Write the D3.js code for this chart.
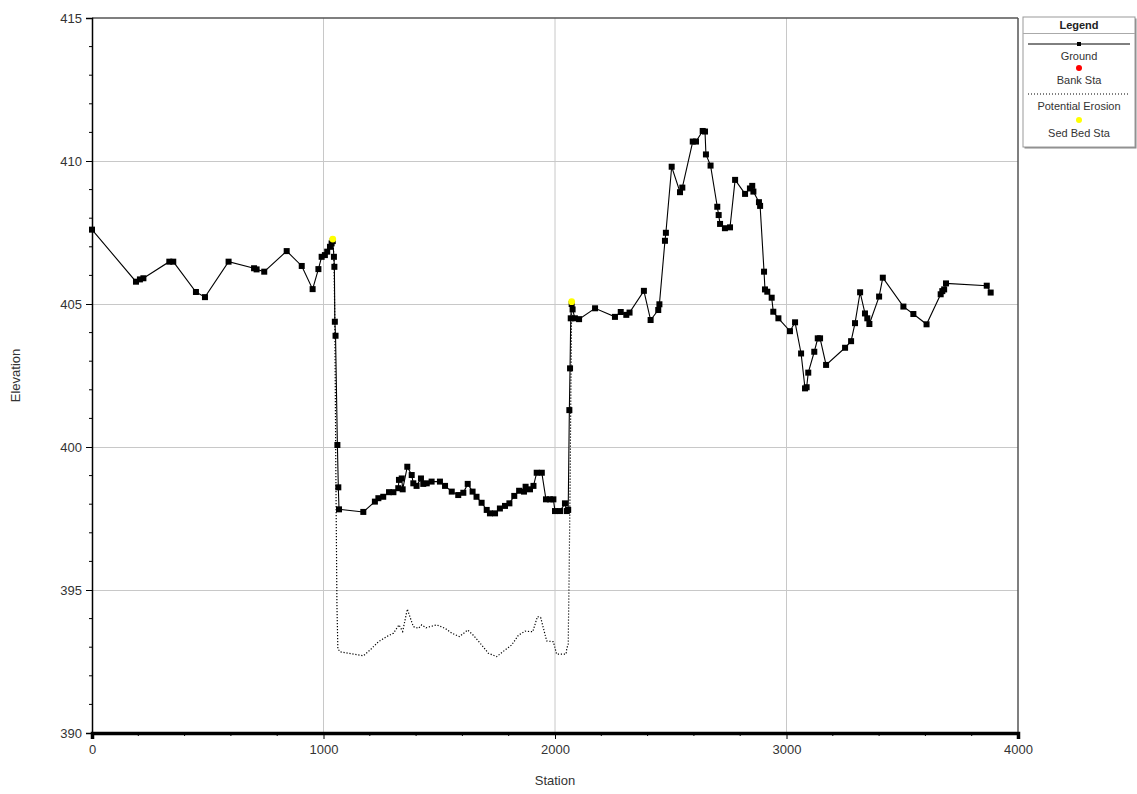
<!DOCTYPE html>
<html><head><meta charset="utf-8">
<script src="https://cdn.jsdelivr.net/npm/d3@7"></script>
<style>body{margin:0;background:#fff;} text{font-family:Arial,"Liberation Sans",sans-serif;}</style>
</head><body>
<svg id="c" width="1137" height="794"></svg>
<script>
const groundSta = [0,190,207,222,334,351,449,488,590,700,711,744,841,906,953,978,992,1006,1016,1028,1035,1040,1045,1047,1049,1052,1060,1064,1067,1172,1222,1237,1258,1283,1302,1323,1326,1338,1342,1362,1381,1388,1402,1421,1431,1446,1467,1503,1525,1554,1582,1604,1623,1644,1661,1683,1705,1719,1741,1762,1784,1803,1824,1845,1866,1873,1892,1907,1921,1943,1961,1978,1993,2000,2022,2043,2051,2057,2062,2065,2068,2072,2076,2086,2104,2173,2259,2284,2308,2322,2384,2413,2446,2451,2475,2479,2504,2540,2550,2595,2609,2638,2648,2652,2672,2701,2707,2713,2734,2756,2778,2821,2842,2852,2857,2881,2886,2903,2907,2917,2936,2943,2965,3015,3037,3063,3080,3087,3094,3120,3135,3145,3171,3253,3279,3296,3318,3339,3349,3358,3400,3416,3505,3548,3605,3666,3673,3681,3689,3865,3882];
const groundElev = [407.6,405.78,405.86,405.9,406.48,406.48,405.42,405.24,406.48,406.25,406.21,406.13,406.85,406.33,405.52,406.22,406.65,406.71,406.83,407.0,407.12,407.2,406.65,406.3,404.38,403.89,400.07,398.59,397.82,397.73,398.09,398.21,398.26,398.42,398.42,398.56,398.85,398.9,398.52,399.31,399.02,398.73,398.64,398.9,398.71,398.73,398.79,398.79,398.64,398.44,398.32,398.4,398.71,398.44,398.26,398.05,397.8,397.68,397.68,397.85,397.94,398.03,398.29,398.47,398.44,398.61,398.52,398.64,399.1,399.1,398.17,398.17,398.17,397.76,397.76,398.03,397.76,397.8,401.29,402.75,404.5,405.0,404.81,404.5,404.47,404.85,404.55,404.72,404.62,404.7,405.46,404.44,404.79,404.99,407.21,407.49,409.8,408.91,409.07,410.68,410.68,411.05,411.03,410.23,409.84,408.4,408.11,407.8,407.65,407.68,409.34,408.85,409.04,409.13,408.93,408.56,408.43,406.13,405.51,405.43,405.22,404.73,404.5,404.05,404.36,403.27,402.05,402.09,402.6,403.33,403.8,403.8,402.87,403.47,403.7,404.33,405.41,404.67,404.5,404.3,405.26,405.92,404.91,404.65,404.29,405.34,405.45,405.51,405.72,405.64,405.4];

const erosionSta = [1040,1045,1049,1053,1058,1062,1071,1172,1201,1237,1273,1302,1326,1342,1362,1388,1410,1424,1443,1489,1525,1554,1587,1623,1647,1683,1712,1748,1784,1813,1842,1871,1904,1924,1938,1964,1993,2007,2048,2051,2057,2062,2065,2068,2072];
const erosionElev = [407.27,406.65,404.4,399.5,394.5,392.95,392.84,392.7,392.9,393.19,393.37,393.49,393.78,393.55,394.33,393.72,393.66,393.78,393.68,393.78,393.66,393.49,393.37,393.6,393.42,393.08,392.79,392.67,392.9,393.08,393.42,393.56,393.54,394.07,394.04,393.22,393.19,392.76,392.76,392.96,393.1,396.3,398.5,401.5,405.08];

const sedBedSta = [1040,2072];
const sedBedElev = [407.27,405.08];

const xMajorTicks = [0,1000,2000,3000,4000];
const yMajorTicks = [390,395,400,405,410,415];

const L=92, R=1018, T=18, B=733;
const x = d3.scaleLinear().domain([0,4000]).range([L,R]);
const y = d3.scaleLinear().domain([390,415]).range([B,T]);
const svg = d3.select("#c");

// grid
svg.append("g").selectAll("line").data(xMajorTicks.slice(1,-1)).join("line")
  .attr("x1",d=>x(d)).attr("x2",d=>x(d)).attr("y1",T).attr("y2",B)
  .attr("stroke","#c8c8c8").attr("stroke-width",1);
svg.append("g").selectAll("line").data(yMajorTicks.slice(1,-1)).join("line")
  .attr("y1",d=>y(d)+0.5).attr("y2",d=>y(d)+0.5).attr("x1",L).attr("x2",R)
  .attr("stroke","#c8c8c8").attr("stroke-width",1);

// frame
svg.append("line").attr("x1",L).attr("x2",R).attr("y1",T).attr("y2",T).attr("stroke","#555").attr("stroke-width",1.5);
svg.append("line").attr("x1",R).attr("x2",R).attr("y1",T).attr("y2",B).attr("stroke","#555").attr("stroke-width",1.5);

// axes
const yAxis = d3.axisLeft(y).tickValues(yMajorTicks).tickSize(6).tickFormat(d3.format("d"));
const gy = svg.append("g").attr("transform",`translate(${L},0)`).call(yAxis);
const yMinor = d3.range(390,415.01,1).filter(v=>v%5!==0);
gy.selectAll(".minor").data(yMinor).join("line").attr("class","minor")
  .attr("x1",-3).attr("x2",0).attr("y1",d=>y(d)).attr("y2",d=>y(d)).attr("stroke","#000");
const xAxis = d3.axisBottom(x).tickValues(xMajorTicks).tickSize(6).tickFormat(d3.format("d"));
const gx = svg.append("g").attr("transform",`translate(0,${B})`).call(xAxis);
const xMinor = d3.range(0,4001,200).filter(v=>v%1000!==0);
gx.selectAll(".minor").data(xMinor).join("line").attr("class","minor")
  .attr("x1",d=>x(d)).attr("x2",d=>x(d)).attr("y1",0).attr("y2",3).attr("stroke","#000");
[gx,gy].forEach(g=>{
  g.select(".domain").attr("stroke","#000").attr("stroke-width",1.5);
  g.selectAll(".tick text").attr("font-size",13).attr("fill","#333").attr("font-family","Arial, Liberation Sans, sans-serif");
});
gx.select(".domain").attr("stroke-width",3.5);
gx.selectAll(".tick text").attr("dy","0.9em");
gy.selectAll(".tick text").attr("dx","-1px");

// axis titles
svg.append("text").attr("x",(L+R)/2).attr("y",785).attr("text-anchor","middle").attr("font-size",13).attr("fill","#333").text("Station");
svg.append("text").attr("transform",`translate(20,${(T+B)/2}) rotate(-90)`).attr("text-anchor","middle").attr("font-size",13).attr("fill","#333").text("Elevation");

// erosion
const erosion = erosionSta.map((s,i)=>[s,erosionElev[i]]);
svg.append("path").datum(erosion).attr("fill","none").attr("stroke","#000").attr("stroke-width",1.2)
  .attr("stroke-dasharray","1.2,1.8")
  .attr("d",d3.line().x(d=>x(d[0])).y(d=>y(d[1])));

// ground
const ground = groundSta.map((s,i)=>[s,groundElev[i]]);
svg.append("path").datum(ground).attr("fill","none").attr("stroke","#000").attr("stroke-width",1.1)
  .attr("d",d3.line().x(d=>x(d[0])).y(d=>y(d[1])));
svg.append("g").selectAll("rect").data(ground).join("rect")
  .attr("x",d=>x(d[0])-3).attr("y",d=>y(d[1])-3).attr("width",6).attr("height",6).attr("fill","#000");

// sed bed sta
const sed = sedBedSta.map((s,i)=>[s,sedBedElev[i]]);
svg.append("g").selectAll("circle").data(sed).join("circle")
  .attr("cx",d=>x(d[0])).attr("cy",d=>y(d[1])).attr("r",3.4).attr("fill","#ffff00");

// legend
const lg = svg.append("g");
const lx=1023, lw=112, ly=17, lh=130, cx=lx+lw/2;
lg.append("rect").attr("x",lx+1.5).attr("y",ly+1.5).attr("width",lw).attr("height",lh).attr("fill","#888");
lg.append("rect").attr("x",lx).attr("y",ly).attr("width",lw).attr("height",lh).attr("fill","#fff").attr("stroke","#999");
lg.append("text").attr("x",cx).attr("y",ly+12).attr("text-anchor","middle").attr("font-size",11).attr("font-weight","bold").attr("fill","#222").text("Legend");
lg.append("line").attr("x1",lx).attr("x2",lx+lw).attr("y1",ly+16.5).attr("y2",ly+16.5).attr("stroke","#aaa");
lg.append("line").attr("x1",lx+5).attr("x2",lx+lw-5).attr("y1",ly+27).attr("y2",ly+27).attr("stroke","#000");
lg.append("rect").attr("x",cx-2).attr("y",ly+25).attr("width",4).attr("height",4).attr("fill","#000");
lg.append("text").attr("x",cx).attr("y",ly+43).attr("text-anchor","middle").attr("font-size",11).attr("fill","#333").text("Ground");
lg.append("circle").attr("cx",cx).attr("cy",ly+51).attr("r",3).attr("fill","#ff0000");
lg.append("text").attr("x",cx).attr("y",ly+67).attr("text-anchor","middle").attr("font-size",11).attr("fill","#333").text("Bank Sta");
lg.append("line").attr("x1",lx+5).attr("x2",lx+lw-5).attr("y1",ly+77).attr("y2",ly+77).attr("stroke","#000").attr("stroke-dasharray","1,2");
lg.append("text").attr("x",cx).attr("y",ly+93).attr("text-anchor","middle").attr("font-size",11).attr("fill","#333").text("Potential Erosion");
lg.append("circle").attr("cx",cx).attr("cy",ly+103).attr("r",3).attr("fill","#ffff00");
lg.append("text").attr("x",cx).attr("y",ly+120).attr("text-anchor","middle").attr("font-size",11).attr("fill","#333").text("Sed Bed Sta");
</script>
</body></html>
